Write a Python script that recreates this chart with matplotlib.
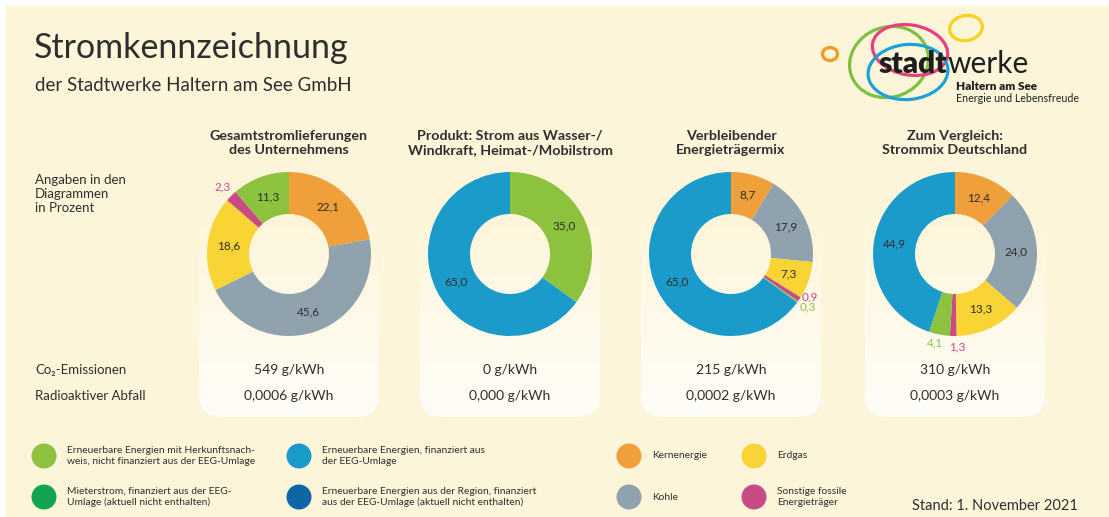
import numpy as np
import matplotlib.pyplot as plt
from matplotlib.patches import FancyBboxPatch, Circle, Ellipse, Rectangle

plt.rcParams['font.family'] = ['Lato', 'DejaVu Sans']

W, H = 1109, 517
TXT = '#2e2e2e'

# colours per energy source
colors = {
    'hkn': '#8DC23F',        # Erneuerbare mit Herkunftsnachweis
    'eeg': '#1A9BC9',        # Erneuerbare, EEG
    'mieter': '#12A450',
    'region': '#0E67A4',
    'kern': '#F0A03A',
    'kohle': '#8FA2AE',
    'gas': '#F8D535',
    'fossil': '#C94B86',
}

# data (clockwise from 12 o'clock)
panel_titles = ['Gesamtstromlieferungen\ndes Unternehmens',
                'Produkt: Strom aus Wasser-/\nWindkraft, Heimat-/Mobilstrom',
                'Verbleibender\nEnergieträgermix',
                'Zum Vergleich:\nStrommix Deutschland']
gesamt_cats = ['kern', 'kohle', 'gas', 'fossil', 'hkn']
gesamt_vals = [22.1, 45.6, 18.6, 2.3, 11.3]
produkt_cats = ['hkn', 'eeg']
produkt_vals = [35.0, 65.0]
rest_cats = ['kern', 'kohle', 'gas', 'fossil', 'hkn', 'eeg']
rest_vals = [8.7, 17.9, 7.3, 0.9, 0.3, 65.0]
de_cats = ['kern', 'kohle', 'gas', 'fossil', 'hkn', 'eeg']
de_vals = [12.4, 24.0, 13.3, 1.3, 4.1, 44.9]
co2 = ['549 g/kWh', '0 g/kWh', '215 g/kWh', '310 g/kWh']
waste = ['0,0006 g/kWh', '0,000 g/kWh', '0,0002 g/kWh', '0,0003 g/kWh']

legend_keys = ['hkn', 'eeg', 'kern', 'gas', 'mieter', 'region', 'kohle', 'fossil']
legend_labels = ['Erneuerbare Energien mit Herkunftsnach-\nweis, nicht finanziert aus der EEG-Umlage',
                 'Erneuerbare Energien, finanziert aus\nder EEG-Umlage',
                 'Kernenergie', 'Erdgas',
                 'Mieterstrom, finanziert aus der EEG-\nUmlage (aktuell nicht enthalten)',
                 'Erneuerbare Energien aus der Region, finanziert\naus der EEG-Umlage (aktuell nicht enthalten)',
                 'Kohle', 'Sonstige fossile\nEnergieträger']

panels = [(gesamt_cats, gesamt_vals), (produkt_cats, produkt_vals),
          (rest_cats, rest_vals), (de_cats, de_vals)]
centers_x = [289, 510, 731, 955]
# outside labels: (panel, index) -> (radius, angle shift)
outside = {(0, 3): (94, 0), (2, 3): (90, 5), (2, 4): (93, 1),
           (3, 3): (93, 2.5), (3, 4): (91, -1.7)}


def Y(y):
    return H - y


fig = plt.figure(figsize=(W / 100, H / 100), dpi=100, facecolor='white')
ax = fig.add_axes([0, 0, 1, 1])
ax.axis('off')
ax.add_patch(Rectangle((6, 0), W - 6, H - 6, color='#FDF5D9', zorder=0))

# title
ax.text(34, Y(58), 'Stromkennzeichnung', fontsize=24.5,
        color=TXT, va='baseline')
ax.text(35, Y(91), 'der Stadtwerke Haltern am See GmbH', fontsize=13.5,
        color=TXT, va='baseline')

# logo
for (cx, cy, w, h, ang, c) in [(889, 62, 80, 70, 20, '#7DC143'),
                               (910, 50, 76, 50, -10, '#E6417A'),
                               (908, 72, 80, 55, 5, '#1DA1D6'),
                               (966, 28, 33, 25, 10, '#F8D11C'),
                               (830, 54, 15, 13, 0, '#F39A22')]:
    ax.add_patch(Ellipse((cx, Y(cy)), w, h, angle=ang, fill=False,
                         lw=2.3, ec=c, zorder=3))
ax.text(947, Y(64), 'stadt', fontsize=21.5, fontweight='heavy', color='#1e1e1e',
        ha='right', va='center', zorder=4)
ax.text(947, Y(64), 'werke', fontsize=21.5, color='#1e1e1e',
        ha='left', va='center', zorder=4)
ax.text(956, Y(87), 'Haltern am See', fontsize=8.5, fontweight='heavy',
        color='#1e1e1e', va='center', zorder=4)
ax.text(956, Y(98), 'Energie und Lebensfreude', fontsize=7.7,
        color='#1e1e1e', va='center', zorder=4)

# left labels
ax.text(35, Y(194), 'Angaben in den\nDiagrammen\nin Prozent', fontsize=9.5,
        color=TXT, va='center', linespacing=1.2)
ax.text(35, Y(370), 'Co₂-Emissionen', fontsize=9.5, color=TXT, va='center')
ax.text(35, Y(396), 'Radioaktiver Abfall', fontsize=9.5, color=TXT, va='center')

# panel backgrounds with gradient (transparent at top, near white at bottom)
grad = np.ones((100, 1, 4))
grad[:, 0, :3] = [1.0, 0.996, 0.975]
grad[:, 0, 3] = np.clip(np.linspace(-0.05, 1.0, 100), 0, 1)
for cx in centers_x:
    x0, x1, ytop, ybot = cx - 90, cx + 90, 195, 417
    box = FancyBboxPatch((x0, Y(ybot)), x1 - x0, ybot - ytop,
                         boxstyle='round,pad=0,rounding_size=22',
                         fc='none', ec='none')
    ax.add_patch(box)
    im = ax.imshow(grad, extent=(x0, x1, Y(ybot), Y(ytop)), aspect='auto',
                   zorder=1, interpolation='bilinear')
    im.set_clip_path(box)

# donuts
for p, ((cats, vals), cx) in enumerate(zip(panels, centers_x)):
    cy = Y(254)
    wedges, _ = ax.pie(vals, colors=[colors[c] for c in cats], startangle=90,
                       counterclock=False, radius=82, center=(cx, cy),
                       wedgeprops=dict(width=42, linewidth=0), frame=True)
    for w in wedges:
        w.set_zorder(2)
    for i, (w, v) in enumerate(zip(wedges, vals)):
        mid = (w.theta1 + w.theta2) / 2
        lab = f'{v:.1f}'.replace('.', ',')
        if (p, i) in outside:
            r, sh = outside[(p, i)]
            col = colors[cats[i]]
        else:
            r, sh = 61, 0
            col = TXT
        a = np.deg2rad(mid + sh)
        ax.text(cx + r * np.cos(a), cy + r * np.sin(a), lab, fontsize=8.5,
                color=col, ha='center', va='center', zorder=3)
    ax.text(cx, Y(143), panel_titles[p], fontsize=10.3, fontweight='bold',
            color=TXT, ha='center', va='center', linespacing=1.2)
    ax.text(cx, Y(370), co2[p], fontsize=10, color=TXT, ha='center',
            va='center', zorder=3)
    ax.text(cx, Y(396), waste[p], fontsize=10, color=TXT, ha='center',
            va='center', zorder=3)

# legend
leg_x = [44, 299, 629, 754]
leg_y = [456, 497]
for k, (key, lab) in enumerate(zip(legend_keys, legend_labels)):
    row, col = divmod(k, 4)
    x, y = leg_x[col], leg_y[row]
    ax.add_patch(Circle((x, Y(y)), 12.5, color=colors[key], lw=0, zorder=3))
    ax.text(x + 23, Y(y), lab, fontsize=7.4, color=TXT, va='center',
            linespacing=1.3)

ax.text(912, Y(506), 'Stand: 1. November 2021', fontsize=10.5, color=TXT,
        va='center')

ax.set_xlim(0, W)
ax.set_ylim(0, H)
fig.savefig('out.png', dpi=100, facecolor='white')
